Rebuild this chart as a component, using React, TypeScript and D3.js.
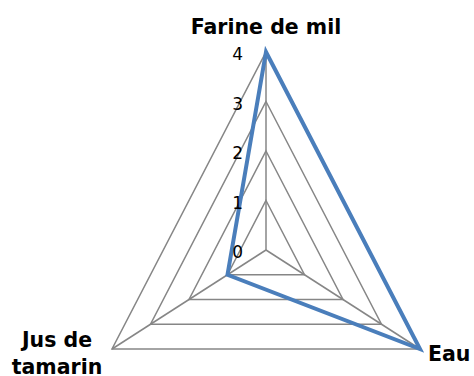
import React from "react";
import * as d3 from "d3";

const categories = ["Farine de mil", "Eau", "Jus de tamarin"];
const values = [4, 4, 1];
const ticks = [0, 1, 2, 3, 4];

const W = 474;
const H = 376;
const cx = 266;
const cy = 250;
const kx = 0.898; // horizontal stretch of the plot area

export default function App() {
  const r = d3.scaleLinear().domain([0, 4]).range([0, 198]);
  const angle = d3
    .scaleLinear()
    .domain([0, categories.length])
    .range([0, 2 * Math.PI]);

  const pt = (i: number, v: number): [number, number] => {
    const a = angle(i);
    return [cx + kx * r(v) * Math.sin(a), cy - r(v) * Math.cos(a)];
  };

  const line = d3
    .line<[number, number]>()
    .x((d) => d[0])
    .y((d) => d[1])
    .curve(d3.curveLinearClosed);

  const rings = ticks.filter((t) => t > 0);
  const font = "'DejaVu Sans', Verdana, sans-serif";

  const labelPos = [
    { x: cx, y: 34, anchor: "middle", lines: ["Farine de mil"] },
    { x: 428, y: 361, anchor: "start", lines: ["Eau"] },
    { x: 57, y: 347, anchor: "middle", lines: ["Jus de", "tamarin"] },
  ];

  return (
    <svg
      width={W}
      height={H}
      style={{ position: "absolute", left: 0, top: 0, background: "#fff" }}
    >
      {rings.map((t) => (
        <path
          key={t}
          d={line(categories.map((_, i) => pt(i, t))) || ""}
          fill="none"
          stroke="#868686"
          strokeWidth={1.5}
        />
      ))}
      {categories.map((_, i) => {
        const [x, y] = pt(i, 4);
        return (
          <line
            key={i}
            x1={cx}
            y1={cy}
            x2={x}
            y2={y}
            stroke="#868686"
            strokeWidth={1.5}
          />
        );
      })}
      <path
        d={line(values.map((v, i) => pt(i, v))) || ""}
        fill="none"
        stroke="#4A7EBB"
        strokeWidth={4}
        strokeLinejoin="miter"
      />
      {ticks.map((t) => (
        <text
          key={t}
          x={243}
          y={cy - r(t) + 2}
          textAnchor="end"
          dominantBaseline="central"
          fontFamily={font}
          fontSize={17}
          fill="#000"
        >
          {t}
        </text>
      ))}
      {labelPos.map((l, i) => (
        <text
          key={i}
          x={l.x}
          y={l.y}
          textAnchor={l.anchor as any}
          fontFamily={font}
          fontWeight="bold"
          fontSize={20.5}
          fill="#000"
        >
          {l.lines.map((s, j) => (
            <tspan key={j} x={l.x} dy={j === 0 ? 0 : 27}>
              {s}
            </tspan>
          ))}
        </text>
      ))}
    </svg>
  );
}
